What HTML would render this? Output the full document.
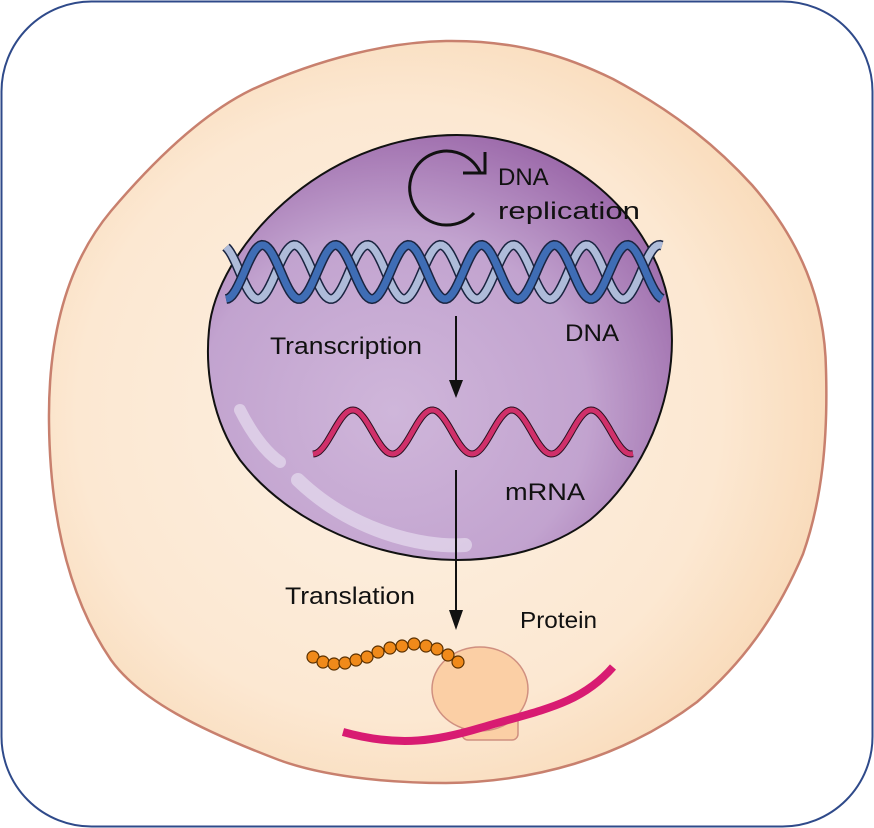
<!DOCTYPE html>
<html><head><meta charset="utf-8"><style>
html,body{margin:0;padding:0;background:#fff;width:874px;height:828px;overflow:hidden}
svg{display:block}
text{font-family:"Liberation Sans",Arial,sans-serif;fill:#111}
</style></head><body>
<svg id="s" width="874" height="828" viewBox="0 0 874 828" xmlns="http://www.w3.org/2000/svg">
<defs>
<radialGradient id="cell" cx="0.45" cy="0.5" r="0.55">
<stop offset="0" stop-color="#fdf0e2"/><stop offset="0.75" stop-color="#fce8d2"/><stop offset="1" stop-color="#f9dcbc"/>
</radialGradient>
<radialGradient id="nuc" cx="0.4" cy="0.65" r="0.7">
<stop offset="0" stop-color="#cfb6da"/><stop offset="0.6" stop-color="#c2a3cf"/><stop offset="1" stop-color="#9b68a9"/>
</radialGradient>
</defs>
<rect x="1.5" y="1.5" width="871" height="825" rx="90" fill="#fff" stroke="#2f4a8a" stroke-width="2"/>
<path d="M446,41 C520,40 570,58 613,79 C680,115 720,150 752,185 C800,240 825,300 826,370 C828,440 822,500 803,554 C775,620 740,665 697,702 C620,760 530,782 446,783 C380,783 320,775 279,760 C200,730 140,700 111,660 C70,600 50,520 49,422 C48,330 70,260 111,211 C150,165 200,115 251,90 C320,58 390,42 446,41 Z" fill="url(#cell)" stroke="#c8806e" stroke-width="2.5"/>
<path d="M457,135 C560,135 650,210 668,300 C684,380 650,470 590,520 C550,550 500,560 457,560 C380,560 290,525 240,460 C212,420 205,370 209,330 C216,250 320,135 457,135 Z" fill="url(#nuc)" stroke="#111" stroke-width="2"/>
<path d="M240,410 C255,440 270,455 280,462" stroke="#e6dbee" stroke-width="12" stroke-linecap="round" fill="none" opacity="0.7"/>
<path d="M298,480 C350,530 420,548 465,545" stroke="#e6dbee" stroke-width="14" stroke-linecap="round" fill="none" opacity="0.7"/>
<g id="helix"></g>
<path d="M474,213 A37,37 0 1 1 480,172" fill="none" stroke="#111" stroke-width="3"/>
<path d="M463,173 L485,173 L485,152" fill="none" stroke="#111" stroke-width="3"/>
<text x="498" y="185" font-size="24">DNA</text>
<text x="498" y="219" font-size="24" textLength="142" lengthAdjust="spacingAndGlyphs">replication</text>
<text x="270" y="354" font-size="24" textLength="152" lengthAdjust="spacingAndGlyphs">Transcription</text>
<text x="565" y="341" font-size="24" textLength="54" lengthAdjust="spacingAndGlyphs">DNA</text>
<text x="505" y="500" font-size="24" textLength="80" lengthAdjust="spacingAndGlyphs">mRNA</text>
<text x="285" y="604" font-size="24" textLength="130" lengthAdjust="spacingAndGlyphs">Translation</text>
<text x="520" y="628" font-size="23" textLength="77" lengthAdjust="spacingAndGlyphs">Protein</text>
<line x1="456" y1="316" x2="456" y2="382" stroke="#111" stroke-width="2"/>
<path d="M449,380 L463,380 L456,398 Z" fill="#111"/>
<line x1="456" y1="470" x2="456" y2="612" stroke="#111" stroke-width="2"/>
<path d="M449,610 L463,610 L456,630 Z" fill="#111"/>
<rect x="462" y="710" width="56" height="30" rx="6" fill="#fbcfa5" stroke="#d09080" stroke-width="1.5"/>
<ellipse cx="480" cy="689" rx="48" ry="42" fill="#fbcfa5" stroke="#d09080" stroke-width="1.5"/>
<path d="M343,732 C400,748 440,740 480,728 C540,710 580,705 613,667" fill="none" stroke="#d81b72" stroke-width="8"/>
<g id="beads" fill="#f08a1a" stroke="#5a3000" stroke-width="1.2"></g>
</svg>
<script>
var ns="http://www.w3.org/2000/svg";
function sinPath(x0,x1,yc,A,P,ph){var d="";for(var x=x0;x<=x1;x+=2){var y=yc+A*Math.sin((x-x0)/P*2*Math.PI+ph);d+=(d?"L":"M")+x+","+y.toFixed(1);}return d;}
var g=document.getElementById("helix");
function add(d,c,w){var p=document.createElementNS(ns,"path");p.setAttribute("d",d);p.setAttribute("fill","none");p.setAttribute("stroke",c);p.setAttribute("stroke-width",w);g.appendChild(p);}
var dk=sinPath(226,662,272,27,73,Math.PI/2), lt=sinPath(226,662,272,27,73,Math.PI/2-2.75);
add(lt,"#1a2440",10);add(lt,"#aebbd9",7);
add(dk,"#1a2440",10);add(dk,"#3f6db5",7);
var m=sinPath(313,633,432,22,79.5,Math.PI/2);
add(m,"#2a1020",7);add(m,"#d0306a",5);
var b=[[313,657],[323,662],[334,664],[345,663],[356,660],[367,657],[378,652],[390,648],[402,646],[414,644],[426,646],[437,649],[448,655],[458,662]];
var bg=document.getElementById("beads");
b.forEach(function(p){var c=document.createElementNS(ns,"circle");c.setAttribute("cx",p[0]);c.setAttribute("cy",p[1]);c.setAttribute("r",6);bg.appendChild(c);});
</script>
</body></html>
